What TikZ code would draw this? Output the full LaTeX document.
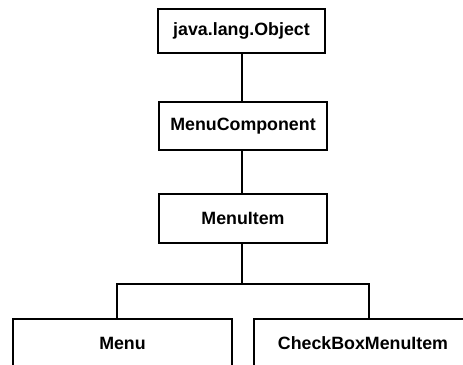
\documentclass[tikz,border=0pt]{standalone}
\usepackage{fontspec}
\setmainfont{Liberation Sans}
\begin{document}
\begin{tikzpicture}[x=1pt, y=-1pt,
  classbox/.style={draw=black, line width=2pt, fill=white, inner sep=0pt,
    font=\fontsize{17.8}{19}\selectfont\bfseries},
  link/.style={draw=black, line width=2pt}]
\useasboundingbox (0,0) rectangle (463,364);
\clip (0,0) rectangle (463,364);
\fill[white] (0,0) rectangle (463,364);

% class hierarchy
\node[classbox, minimum width=167pt, minimum height=44pt] (obj) at (241.5,31) {java.lang.Object};
\node[classbox, minimum width=168pt, minimum height=48pt] (comp) at (243,126) {MenuComponent};
\node[classbox, minimum width=168pt, minimum height=49pt] (item) at (243,218.5) {MenuItem};
\node[classbox, minimum width=219pt, minimum height=48pt] (menu) at (122.5,343) {Menu};
\node[classbox, minimum width=218pt, minimum height=48pt] (cbmi) at (363,343) {CheckBoxMenuItem};

% inheritance links
\draw[link] (obj.south -| 242,0) -- (comp.north -| 242,0);
\draw[link] (comp.south -| 242,0) -- (item.north -| 242,0);
\coordinate (bl) at (117,284);
\coordinate (br) at (369,284);
\draw[link] (item.south -| 242,0) -- (bl -| 242,0);
\draw[link, line cap=rect] (bl) -- (br);
\draw[link] (bl) -- (bl |- menu.north);
\draw[link] (br) -- (br |- cbmi.north);
\end{tikzpicture}
\end{document}
